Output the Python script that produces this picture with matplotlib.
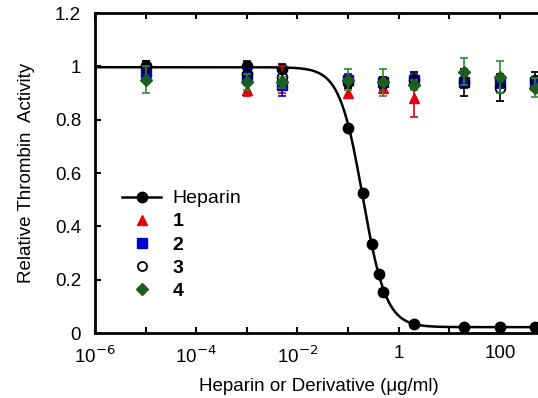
import numpy as np
import matplotlib
matplotlib.use('Agg')
from matplotlib import pyplot as plt
from matplotlib.ticker import FixedLocator, FixedFormatter, NullLocator

plt.rcParams['font.family'] = ['Liberation Sans', 'DejaVu Sans']

# %% data
hep_x = [1e-5, 1e-3, 5e-3, 0.1, 0.2, 0.3, 0.4, 0.5, 2, 20, 100, 500]
hep_y = [1.0, 1.0, 0.99, 0.77, 0.525, 0.335, 0.22, 0.155, 0.035, 0.022, 0.022, 0.022]
hep_err = [0.02, 0.02, 0.02, 0.01, 0.01, 0.01, 0.01, 0.01, 0.01, 0.01, 0.01, 0.01]

deriv_x = [1e-5, 1e-3, 5e-3, 0.1, 0.5, 2, 20, 100, 500]
d1 = [0.97, 0.91, 0.95, 0.90, 0.92, 0.88, 0.94, 0.94, 0.93]
d1_err = [0.02, 0.02, 0.05, 0.02, 0.01, 0.07, 0.01, 0.01, 0.01]
d2 = [0.98, 0.96, 0.93, 0.95, 0.94, 0.95, 0.94, 0.94, 0.94]
d2_err = [0.02, 0.03, 0.04, 0.02, 0.02, 0.02, 0.02, 0.02, 0.02]
d3 = [1.0, 0.97, 0.96, 0.94, 0.94, 0.95, 0.94, 0.92, 0.95]
d3_err = [0.02, 0.04, 0.02, 0.02, 0.02, 0.03, 0.05, 0.05, 0.03]
d4 = [0.95, 0.94, 0.94, 0.95, 0.94, 0.93, 0.98, 0.96, 0.92]
d4_err = [0.05, 0.03, 0.02, 0.04, 0.05, 0.02, 0.05, 0.06, 0.035]

x_ticks = [1e-6, 1e-5, 1e-4, 1e-3, 1e-2, 1e-1, 1, 10, 100]
x_labels = ['10$^{-6}$', '', '10$^{-4}$', '', '10$^{-2}$', '', '1', '', '100']
y_ticks = [0, 0.2, 0.4, 0.6, 0.8, 1, 1.2]
y_labels = ['0', '0.2', '0.4', '0.6', '0.8', '1', '1.2']

# %% logistic fit of heparin (top/bottom from plateaus, slope+IC50 by linear fit of logit)
hx = np.log10(hep_x)
hy = np.array(hep_y)
top = hy[:3].mean()
bottom = hy[-3:].mean()
m = (hy > 0.1) & (hy < 0.9)
slope, icpt = np.polyfit(hx[m], np.log10((top - hy[m]) / (hy[m] - bottom)), 1)
xmax = 10 ** 2.86
xs = np.logspace(-6, np.log10(xmax), 400)
fit = bottom + (top - bottom) / (1 + 10 ** (slope * np.log10(xs) + icpt))

# %% plot
fig = plt.figure(figsize=(5.38, 3.98), dpi=100)
ax = fig.add_axes([95 / 538, 65 / 398, 1 - 95 / 538 + 0.01, 320 / 398])

red = '#e3000f'
blue = '#0000cc'
green = '#1b5e20'
green_bar = '#2e8b2e'
ekw = dict(capsize=3, elinewidth=1.2, capthick=1.2, linestyle='none')

ax.plot(xs, fit, color='black', lw=1.8, zorder=2)
ax.errorbar(hep_x, hep_y, yerr=hep_err, marker='o', ms=7.5, color='black', **ekw, zorder=3)
ax.errorbar(deriv_x, d1, yerr=d1_err, marker='^', ms=7, color=red, **ekw, zorder=4)
ax.errorbar(deriv_x, d2, yerr=d2_err, marker='s', ms=6.5, color=blue, **ekw, zorder=5)
ax.errorbar(deriv_x, d3, yerr=d3_err, marker='o', ms=7, mfc='none', mec='black', mew=1.3,
            color='black', **ekw, zorder=6)
ax.errorbar(deriv_x, d4, yerr=d4_err, marker='D', ms=6.5, mfc=green, mec=green,
            ecolor=green_bar, **ekw, zorder=7)

# legend made of proxy handles
h0, = ax.plot([], [], color='black', lw=1.8, marker='o', ms=7.5)
h1, = ax.plot([], [], ls='none', marker='^', ms=7, color=red)
h2, = ax.plot([], [], ls='none', marker='s', ms=6.5, color=blue)
h3, = ax.plot([], [], ls='none', marker='o', ms=6.5, mfc='white', mec='black', mew=1.3)
h4, = ax.plot([], [], ls='none', marker='D', ms=6.5, color=green)
leg = ax.legend([h0, h1, h2, h3, h4], ['Heparin', '1', '2', '3', '4'],
                loc='upper left', bbox_to_anchor=(0.03, 0.49), frameon=False,
                fontsize=14, handlelength=2.0, labelspacing=0.28, borderpad=0.2,
                handletextpad=0.6)
for t in leg.get_texts()[1:]:
    t.set_fontweight('bold')

ax.set_xscale('log')
ax.set_xlim(1e-6, xmax)
ax.set_ylim(0, 1.2)
ax.xaxis.set_major_locator(FixedLocator(x_ticks))
ax.xaxis.set_major_formatter(FixedFormatter(x_labels))
ax.xaxis.set_minor_locator(NullLocator())
ax.set_yticks(y_ticks)
ax.set_yticklabels(y_labels)
ax.tick_params(direction='in', length=4, width=1.5, labelsize=13.5, top=True)
ax.tick_params(axis='y', pad=10)
ax.tick_params(axis='x', pad=9)

for s in ['left', 'bottom', 'top']:
    ax.spines[s].set_linewidth(2)
ax.spines['right'].set_visible(False)

ax.set_xlabel('Heparin or Derivative (\u03bcg/ml)', fontsize=13.5, labelpad=8)
ax.set_ylabel('Relative Thrombin  Activity', fontsize=13.5, labelpad=14)

fig.savefig('out.png', dpi=100)
